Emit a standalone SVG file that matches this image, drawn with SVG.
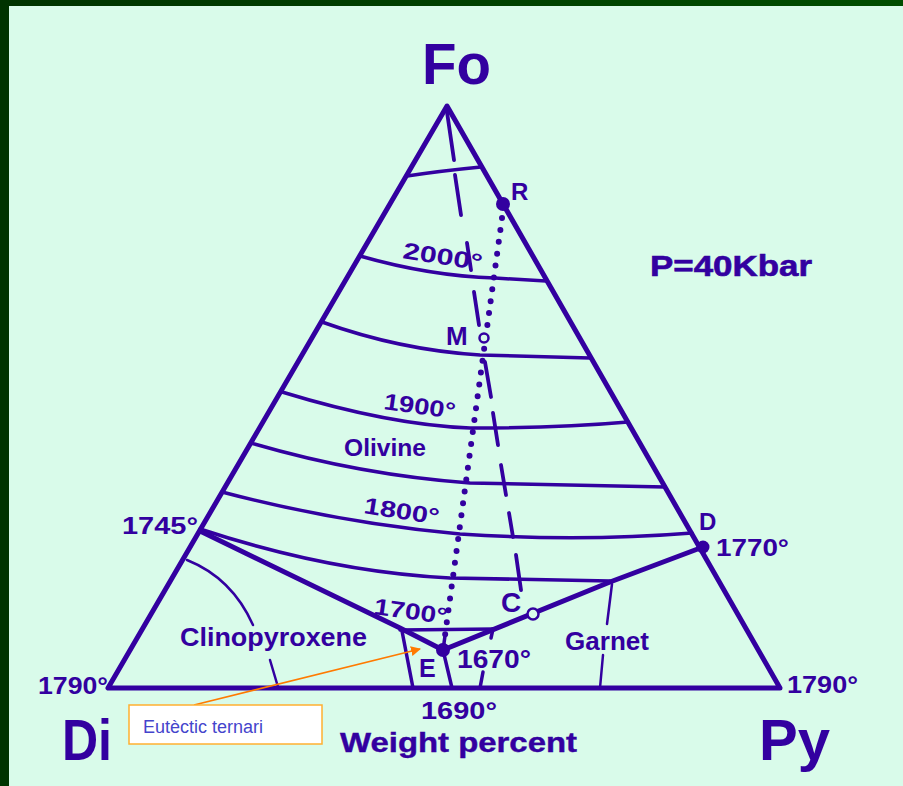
<svg xmlns="http://www.w3.org/2000/svg" width="903" height="786" viewBox="0 0 903 786">
<defs>
<linearGradient id="bar" x1="0" y1="0" x2="1" y2="0">
<stop offset="0" stop-color="#003300"/>
<stop offset="1" stop-color="#004d00"/>
</linearGradient>
<marker id="arr" viewBox="0 0 10 10" refX="9" refY="5" markerWidth="10" markerHeight="10" markerUnits="userSpaceOnUse" orient="auto">
<path d="M0,0 L10,5 L0,10 z" fill="#ff7a00"/>
</marker>
<style>
.ln{fill:none;stroke:#3300a0;stroke-linecap:round;stroke-linejoin:round}
.tri{stroke-width:5}
.iso{stroke-width:3.5}
.thin{stroke-width:2.5}
.lbl{font-family:"Liberation Sans",Arial,sans-serif;font-weight:bold;fill:#3300a0}
.num{font-size:24px}
.big{font-size:58px}
.dot{fill:#3300a0}
.open{fill:#d9fbea;stroke:#3300a0;stroke-width:2.5}
</style>
</defs>
<rect x="0" y="0" width="903" height="786" fill="#d9fbea"/>
<rect x="0" y="0" width="903" height="6" fill="url(#bar)"/>
<rect x="0" y="0" width="9" height="786" fill="#003300"/>

<g id="triangle">
<path class="ln tri" d="M447,106 L108,688 L780,688 Z"/>
</g>

<g id="isotherms">
<path class="ln iso" d="M407,176 Q440,171 481,167"/>
<path class="ln iso" d="M360,256 Q430,276 495,278 L546,281"/>
<path class="ln iso" d="M322,322 Q400,350 480,355 L590,358"/>
<path class="ln iso" d="M282,392 Q390,425 470,428 Q560,428 628,422"/>
<path class="ln iso" d="M251,443 Q360,475 470,483 L665,487"/>
<path class="ln iso" d="M222,492 Q340,523 460,534 Q580,542 692,533"/>
<path class="ln iso" d="M200,529 Q330,572 450,578 L610,581"/>
<path class="ln iso" d="M400,630 L495,629"/>
</g>

<g id="boundaries">
<path class="ln tri" d="M200,531 L400,628 L443,650 L610,582 L703,547"/>
<path class="ln iso" d="M402,631 L413,688"/>
<path class="ln iso" d="M443,650 L452,688"/>
<path class="ln iso" d="M445,636 L443,650"/>
<path class="ln iso" d="M493,629 L491,638"/>
<path class="ln iso" d="M483,672 L480,688"/>
<path class="ln thin" d="M187,560 Q232,578 253,625"/>
<path class="ln thin" d="M270,660 L278,687"/>
<path class="ln thin" d="M612,584 L607,624"/>
<path class="ln thin" d="M603,655 L600,688"/>
</g>

<g id="connectors">
<path class="ln" stroke-width="3.8" d="M447,112 L454,160 M455,175 L461,215 M467,243 L471,270 M474,292 L479,325 M485,362 L491,397 M493,413 L498,445 M501,465 L506,495 M509,513 L513,537 M516,555 L521,590"/>
<path class="ln" stroke-width="6" stroke-dasharray="0 12" d="M502,218 L443,650"/>
<path fill="none" stroke="#ff7a00" stroke-width="1.8" d="M194,705 L420,649" marker-end="url(#arr)"/>
</g>

<g id="node-R"><circle class="dot" cx="503" cy="204" r="7"/><text class="lbl" x="511" y="200" font-size="24">R</text></g>
<g id="node-M"><circle class="open" cx="484" cy="338" r="4.5"/><text class="lbl" x="446" y="345" font-size="26">M</text></g>
<g id="node-C"><circle class="open" cx="533" cy="614" r="5.5"/><text class="lbl" x="501" y="612" font-size="28">C</text></g>
<g id="node-D"><circle class="dot" cx="703" cy="547" r="6.5"/><text class="lbl" x="699" y="530" font-size="24">D</text><text class="lbl num" x="716" y="556" textLength="73" lengthAdjust="spacingAndGlyphs">1770°</text></g>
<g id="node-E"><circle class="dot" cx="443" cy="650" r="7"/><text class="lbl" x="419" y="677" font-size="25" font-weight="normal">E</text><text class="lbl" x="457" y="668" font-size="26" textLength="74" lengthAdjust="spacingAndGlyphs">1670°</text></g>
<g id="node-Fo"><text class="lbl big" x="422" y="84" textLength="69" lengthAdjust="spacingAndGlyphs">Fo</text></g>
<g id="node-Di"><text class="lbl big" x="62" y="760" font-size="60" textLength="50" lengthAdjust="spacingAndGlyphs">Di</text><text class="lbl num" x="38" y="694" textLength="70" lengthAdjust="spacingAndGlyphs">1790°</text></g>
<g id="node-Py"><text class="lbl big" x="759" y="760" font-size="60" textLength="71" lengthAdjust="spacingAndGlyphs">Py</text><text class="lbl num" x="787" y="693" textLength="71" lengthAdjust="spacingAndGlyphs">1790°</text></g>
<g id="node-1745"><text class="lbl num" x="122" y="534" textLength="76" lengthAdjust="spacingAndGlyphs">1745°</text></g>

<g id="labels">
<text class="lbl" x="650" y="276" font-size="29" font-weight="normal" stroke="#3300a0" stroke-width="0.6" textLength="162" lengthAdjust="spacingAndGlyphs">P=40Kbar</text>
<text class="lbl" x="402" y="258" font-size="23" transform="rotate(9,402,258)" textLength="80" lengthAdjust="spacingAndGlyphs">2000°</text>
<text class="lbl" x="383" y="409" font-size="23" transform="rotate(8,383,409)" textLength="72" lengthAdjust="spacingAndGlyphs">1900°</text>
<text class="lbl" x="344" y="456" font-size="24" textLength="82" lengthAdjust="spacingAndGlyphs">Olivine</text>
<text class="lbl" x="363" y="513" font-size="23" transform="rotate(9,363,513)" textLength="76" lengthAdjust="spacingAndGlyphs">1800°</text>
<text class="lbl" x="373" y="614" font-size="23" transform="rotate(8,373,614)" textLength="74" lengthAdjust="spacingAndGlyphs">1700°</text>
<text class="lbl" x="180" y="646" font-size="25" textLength="187" lengthAdjust="spacingAndGlyphs">Clinopyroxene</text>
<text class="lbl" x="565" y="650" font-size="25" textLength="84" lengthAdjust="spacingAndGlyphs">Garnet</text>
<text class="lbl num" x="421" y="719" textLength="76" lengthAdjust="spacingAndGlyphs">1690°</text>
<text class="lbl" x="340" y="752" font-size="27" font-weight="normal" stroke="#3300a0" stroke-width="0.4" textLength="237" lengthAdjust="spacingAndGlyphs">Weight percent</text>
</g>

<g id="callout">
<rect x="129" y="705" width="193" height="39" fill="#ffffff" stroke="#ffb030" stroke-width="1.5"/>
<text x="143" y="733" font-family="Liberation Sans, Arial, sans-serif" font-size="18" fill="#4444cc">Eutèctic ternari</text>
</g>
</svg>
